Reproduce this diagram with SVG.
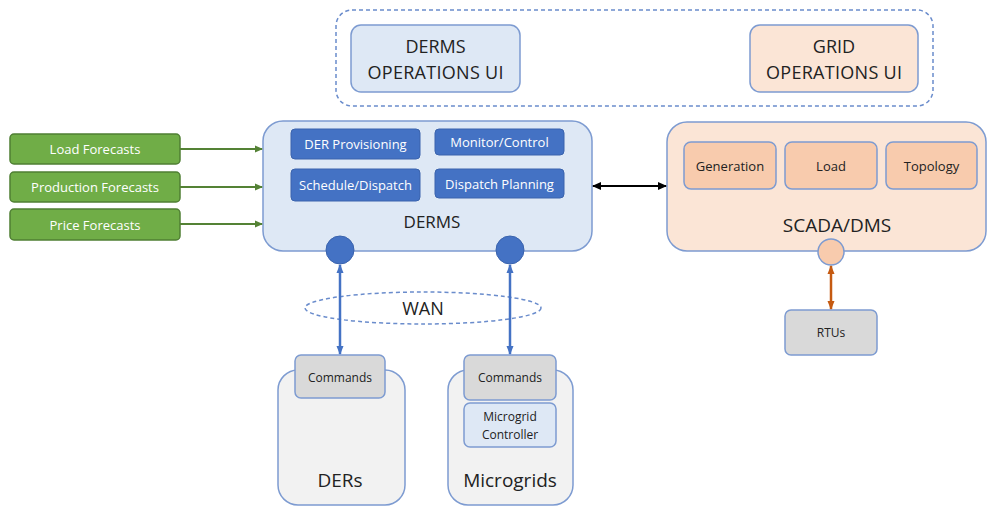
<svg xmlns="http://www.w3.org/2000/svg" width="987" height="506" viewBox="0 0 987 506">
  <style>
    text { font-family: "Open Sans", "Liberation Sans", sans-serif; text-anchor: middle; dominant-baseline: central; }
    .green { fill: #70ad47; stroke: #4f7f33; stroke-width: 1.5; }
    .blue { fill: #4472c4; stroke: #3a63ad; stroke-width: 1; }
    .lblue { fill: #dee8f5; stroke: #7d9bd1; stroke-width: 1.5; }
    .peach { fill: #fbe5d6; stroke: #7d9bd1; stroke-width: 1.5; }
    .peach2 { fill: #f8cbad; stroke: #7d9bd1; stroke-width: 1.5; }
    .grey { fill: #d9d9d9; stroke: #7d9bd1; stroke-width: 1.5; }
    .lgrey { fill: #f2f2f2; stroke: #7d9bd1; stroke-width: 1.5; }
    .wt { fill: #ffffff; font-size: 13px; }
    .bk { fill: #222222; }
    .dash { fill: none; stroke: #6a8ccc; stroke-width: 1.5; stroke-dasharray: 4 3; }
  </style>
  <defs>
    <marker id="arrG" markerWidth="8" markerHeight="8" refX="7" refY="4" orient="auto" markerUnits="userSpaceOnUse">
      <path d="M0,0.5 L8,4 L0,7.5 z" fill="#548235"/>
    </marker>
    <marker id="arrK" markerWidth="9" markerHeight="9" refX="8" refY="4.5" orient="auto-start-reverse" markerUnits="userSpaceOnUse">
      <path d="M0,0.5 L9,4.5 L0,8.5 z" fill="#000000"/>
    </marker>
    <marker id="arrB" markerWidth="9" markerHeight="9" refX="8" refY="4.5" orient="auto-start-reverse" markerUnits="userSpaceOnUse">
      <path d="M0,1 L9,4.5 L0,8 z" fill="#4472c4"/>
    </marker>
    <marker id="arrO" markerWidth="9" markerHeight="9" refX="8" refY="4.5" orient="auto-start-reverse" markerUnits="userSpaceOnUse">
      <path d="M0,1 L9,4.5 L0,8 z" fill="#c55a11"/>
    </marker>
  </defs>

  <!-- operations UI group -->
  <g id="ui-group">
    <rect class="dash" x="336" y="10" width="597" height="96" rx="16"/>
  </g>
  <g id="derms-ui">
    <rect class="lblue" x="351" y="25" width="169" height="67" rx="10"/>
    <text class="bk" x="435.5" y="46" font-size="18">DERMS</text>
    <text class="bk" x="435.5" y="72" font-size="18" textLength="136">OPERATIONS UI</text>
  </g>
  <g id="grid-ui">
    <rect class="peach" x="750" y="25" width="168" height="67" rx="10"/>
    <text class="bk" x="834" y="46" font-size="18">GRID</text>
    <text class="bk" x="834" y="72" font-size="18" textLength="136">OPERATIONS UI</text>
  </g>

  <!-- forecast inputs -->
  <g id="load-forecasts">
    <rect class="green" x="10" y="134" width="170" height="30" rx="4"/>
    <text class="wt" x="95" y="149" font-size="14.5">Load Forecasts</text>
  </g>
  <g id="production-forecasts">
    <rect class="green" x="10" y="172" width="170" height="30" rx="4"/>
    <text class="wt" x="95" y="187" font-size="14.5">Production Forecasts</text>
  </g>
  <g id="price-forecasts">
    <rect class="green" x="10" y="209" width="170" height="31" rx="4"/>
    <text class="wt" x="95" y="224.5" font-size="14.5">Price Forecasts</text>
  </g>

  <!-- DERMS -->
  <g id="derms">
    <rect class="lblue" x="263" y="121" width="329" height="130" rx="20"/>
    <rect class="blue" x="291" y="129" width="129" height="30" rx="4"/>
    <text class="wt" x="355.5" y="144">DER Provisioning</text>
    <rect class="blue" x="435" y="129" width="129" height="26" rx="4"/>
    <text class="wt" x="499.5" y="142">Monitor/Control</text>
    <rect class="blue" x="291" y="169" width="129" height="32" rx="4"/>
    <text class="wt" x="355.5" y="185">Schedule/Dispatch</text>
    <rect class="blue" x="435" y="169" width="129" height="29" rx="4"/>
    <text class="wt" x="499.5" y="183.5">Dispatch Planning</text>
    <text class="bk" x="432" y="221" font-size="17">DERMS</text>
    <circle cx="340" cy="250" r="14" fill="#4472c4" stroke="#3a63ad"/>
    <circle cx="510" cy="250" r="14" fill="#4472c4" stroke="#3a63ad"/>
  </g>

  <!-- SCADA/DMS -->
  <g id="scada-dms">
    <rect class="peach" x="667" y="122" width="319" height="129" rx="20"/>
    <rect class="peach2" x="684" y="142" width="92" height="47" rx="7"/>
    <text class="bk" x="730" y="165.5" font-size="13">Generation</text>
    <rect class="peach2" x="785" y="142" width="92" height="47" rx="7"/>
    <text class="bk" x="831" y="165.5" font-size="13">Load</text>
    <rect class="peach2" x="886" y="142" width="91" height="47" rx="7"/>
    <text class="bk" x="931.5" y="165.5" font-size="13">Topology</text>
    <text class="bk" x="837" y="225" font-size="19">SCADA/DMS</text>
    <circle cx="831" cy="252" r="13" fill="#f8cbad" stroke="#7d9bd1" stroke-width="1.5"/>
  </g>

  <g id="rtus">
    <rect class="grey" x="785" y="310" width="92" height="45" rx="6"/>
    <text class="bk" x="831" y="332.5" font-size="12">RTUs</text>
  </g>

  <!-- WAN -->
  <g id="wan">
    <ellipse class="dash" cx="423" cy="308" rx="118" ry="16"/>
    <text class="bk" x="423" y="308" font-size="18">WAN</text>
  </g>

  <!-- DERs -->
  <g id="ders">
    <rect class="lgrey" x="278" y="370" width="127" height="135" rx="20"/>
    <rect class="grey" x="295" y="355" width="90" height="43" rx="6"/>
    <text class="bk" x="340" y="377" font-size="12">Commands</text>
    <text class="bk" x="340" y="480" font-size="19">DERs</text>
  </g>

  <!-- Microgrids -->
  <g id="microgrids">
    <rect class="lgrey" x="448" y="370" width="125" height="135" rx="20"/>
    <rect class="grey" x="464" y="355" width="92" height="45" rx="6"/>
    <text class="bk" x="510" y="377.5" font-size="12">Commands</text>
    <rect class="lblue" x="464" y="403" width="92" height="44" rx="6"/>
    <text class="bk" x="510" y="416" font-size="12">Microgrid</text>
    <text class="bk" x="510" y="434" font-size="12">Controller</text>
    <text class="bk" x="510" y="480" font-size="19">Microgrids</text>
  </g>

  <!-- connectors -->
  <g id="connectors" fill="none">
    <line x1="180" y1="149" x2="262" y2="149" stroke="#548235" stroke-width="2" marker-end="url(#arrG)"/>
    <line x1="180" y1="187" x2="262" y2="187" stroke="#548235" stroke-width="2" marker-end="url(#arrG)"/>
    <line x1="180" y1="224" x2="262" y2="224" stroke="#548235" stroke-width="2" marker-end="url(#arrG)"/>
    <line x1="593" y1="186" x2="666" y2="186" stroke="#000000" stroke-width="2" marker-start="url(#arrK)" marker-end="url(#arrK)"/>
    <line x1="340" y1="265" x2="340" y2="354" stroke="#4472c4" stroke-width="2.5" marker-start="url(#arrB)" marker-end="url(#arrB)"/>
    <line x1="510" y1="265" x2="510" y2="354" stroke="#4472c4" stroke-width="2.5" marker-start="url(#arrB)" marker-end="url(#arrB)"/>
    <line x1="831" y1="266" x2="831" y2="309" stroke="#c55a11" stroke-width="2.5" marker-start="url(#arrO)" marker-end="url(#arrO)"/>
  </g>
</svg>
